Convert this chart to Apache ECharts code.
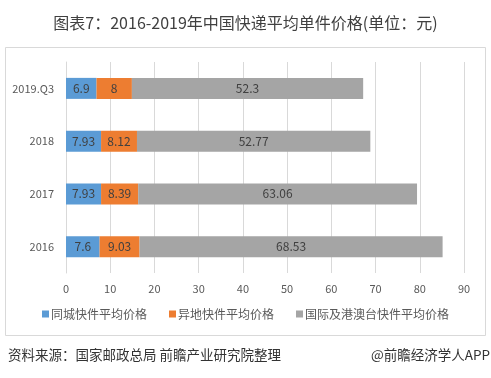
<!DOCTYPE html>
<html>
<head>
<meta charset="utf-8">
<script src="https://cdn.jsdelivr.net/npm/echarts@6/dist/echarts.min.js"></script>
<style>
  html, body { margin: 0; padding: 0; background: #fff; }
  #main { width: 491px; height: 378px; }
</style>
</head>
<body>
<div id="main"></div>
<script>
// data
var categories = ['2016', '2017', '2018', '2019.Q3'];
var sameCity = [7.6, 7.93, 7.93, 6.9];
var otherCity = [9.03, 8.39, 8.12, 8];
var intlHkMoTw = [68.53, 63.06, 52.77, 52.3];
var seriesNames = ['同城快件平均价格', '异地快件平均价格', '国际及港澳台快件平均价格'];
var xTicks = [0, 10, 20, 30, 40, 50, 60, 70, 80, 90];

var font = '"Microsoft YaHei", "Noto Sans CJK SC", sans-serif';
var chart = echarts.init(document.getElementById('main'));

function makeSeries(name, data, color) {
    return {
        name: name,
        type: 'bar',
        stack: 'total',
        barWidth: 21,
        itemStyle: { color: color },
        label: {
            show: true,
            position: 'inside',
            color: '#404040',
            fontSize: 12,
            fontFamily: font
        },
        data: data
    };
}

var option = {
    animation: false,
    backgroundColor: '#fff',
    title: {
        text: '图表7：2016-2019年中国快递平均单件价格(单位：元)',
        left: 'center',
        top: 10,
        textStyle: { color: '#404040', fontSize: 16, fontWeight: 'normal', fontFamily: font }
    },
    legend: {
        bottom: 53,
        left: 'center',
        itemWidth: 7,
        itemHeight: 7,
        itemGap: 22,
        icon: 'rect',
        textStyle: { color: '#595959', fontSize: 12, fontFamily: font, padding: [0, 0, 0, -3] },
        data: seriesNames
    },
    grid: {
        left: 66,
        right: 27,
        top: 62,
        bottom: 105
    },
    xAxis: {
        type: 'value',
        min: xTicks[0],
        max: xTicks[xTicks.length - 1],
        interval: 10,
        axisLine: { show: false },
        axisTick: { show: false },
        axisLabel: { color: '#595959', fontSize: 11, fontFamily: font, margin: 10 },
        splitLine: { lineStyle: { color: '#d9d9d9' } }
    },
    yAxis: {
        type: 'category',
        data: categories,
        axisLine: { lineStyle: { color: '#d9d9d9' } },
        axisTick: { show: false },
        axisLabel: { color: '#595959', fontSize: 11, fontFamily: font, margin: 12 }
    },
    graphic: [
        {
            type: 'rect',
            shape: { x: 5.5, y: 47.5, width: 480, height: 288 },
            style: { fill: 'none', stroke: '#d9d9d9', lineWidth: 1 },
            z: -1
        },
        {
            type: 'text',
            left: 8,
            top: 348,
            style: { text: '资料来源：国家邮政总局 前瞻产业研究院整理', fill: '#333', font: '13.5px ' + font }
        },
        {
            type: 'text',
            right: 1,
            top: 348,
            style: { text: '@前瞻经济学人APP', fill: '#333', font: '13.5px ' + font }
        }
    ],
    series: [
        makeSeries(seriesNames[0], sameCity, '#5B9BD5'),
        makeSeries(seriesNames[1], otherCity, '#ED7D31'),
        makeSeries(seriesNames[2], intlHkMoTw, '#A5A5A5')
    ]
};
chart.setOption(option, true);
</script>
</body>
</html>
